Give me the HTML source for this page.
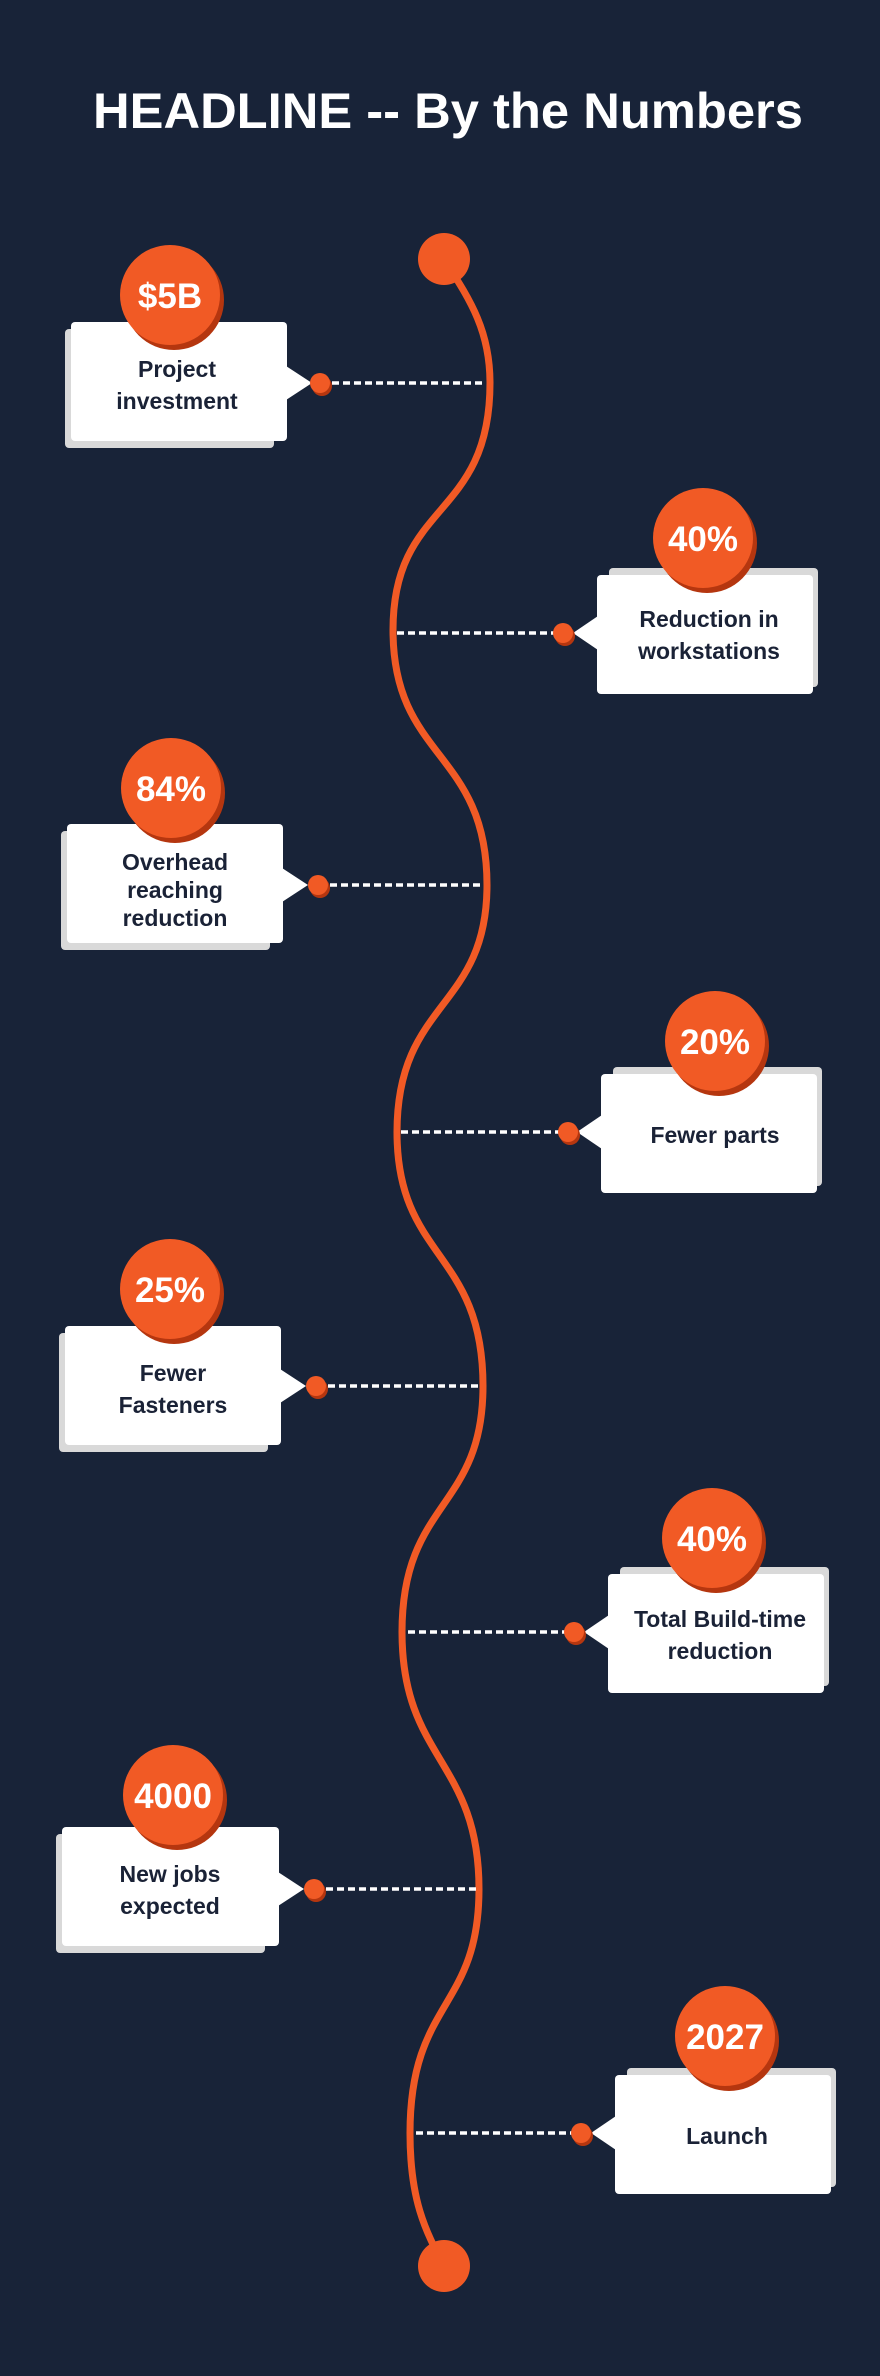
<!DOCTYPE html>
<html><head><meta charset="utf-8"><style>
html,body{margin:0;padding:0;background:#182338;}
svg{display:block}
.t{font-family:"Liberation Sans",sans-serif;font-weight:bold;}
</style></head><body>
<svg width="880" height="2376" viewBox="0 0 880 2376" xmlns="http://www.w3.org/2000/svg">
<rect width="880" height="2376" fill="#182338"/>
<text class="t" x="448" y="128" font-size="50" fill="#fff" text-anchor="middle" textLength="710" lengthAdjust="spacingAndGlyphs">HEADLINE -- By the Numbers</text>

<path d="M444,259 C470,300 490,330 490,383 C490,520 393,500 393,630 C393,760 487,750 487,885 C487,1010 397,1000 397,1132 C397,1260 483,1250 483,1386 C483,1510 402,1500 402,1632 C402,1760 479,1760 479,1889 C479,2010 410,2000 410,2133 C410,2200 425,2230 444,2266" fill="none" stroke="#f15a25" stroke-width="7"/>
<circle cx="444" cy="259" r="26" fill="#f15a25"/>
<circle cx="444" cy="2266" r="26" fill="#f15a25"/>

<g fill="none" stroke="#fff" stroke-width="3.5" stroke-dasharray="7 4">
<line x1="332" y1="383" x2="486" y2="383"/>
<line x1="397" y1="633" x2="555" y2="633"/>
<line x1="330" y1="885" x2="482" y2="885"/>
<line x1="401" y1="1132" x2="560" y2="1132"/>
<line x1="328" y1="1386" x2="481" y2="1386"/>
<line x1="408" y1="1632" x2="566" y2="1632"/>
<line x1="326" y1="1889" x2="479" y2="1889"/>
<line x1="416" y1="2133" x2="573" y2="2133"/>
</g>

<!-- left cards: x,y top, w=216,h=119 -->
<g>
<rect x="65" y="329" width="209" height="119" rx="4" fill="#d9d9d9"/>
<rect x="71" y="322" width="216" height="119" rx="4" fill="#fff"/>
<polygon points="286,366 312,383 286,400" fill="#fff"/>
<circle cx="322" cy="386" r="10" fill="#b5360f"/><circle cx="320" cy="383" r="10" fill="#f15a25"/>
<circle cx="174" cy="300" r="50" fill="#b5360f"/><circle cx="170" cy="295" r="50" fill="#f15a25"/>
<text class="t" x="170" y="308" font-size="35" fill="#fff" text-anchor="middle">$5B</text>
<text class="t" x="177" y="377" font-size="23" fill="#1a2236" text-anchor="middle">Project</text>
<text class="t" x="177" y="409" font-size="23" fill="#1a2236" text-anchor="middle">investment</text>
</g>
<g>
<rect x="61" y="831" width="209" height="119" rx="4" fill="#d9d9d9"/>
<rect x="67" y="824" width="216" height="119" rx="4" fill="#fff"/>
<polygon points="282,868 308,885 282,902" fill="#fff"/>
<circle cx="320" cy="888" r="10" fill="#b5360f"/><circle cx="318" cy="885" r="10" fill="#f15a25"/>
<circle cx="175" cy="793" r="50" fill="#b5360f"/><circle cx="171" cy="788" r="50" fill="#f15a25"/>
<text class="t" x="171" y="801" font-size="35" fill="#fff" text-anchor="middle">84%</text>
<text class="t" x="175" y="870" font-size="23" fill="#1a2236" text-anchor="middle">Overhead</text>
<text class="t" x="175" y="898" font-size="23" fill="#1a2236" text-anchor="middle">reaching</text>
<text class="t" x="175" y="926" font-size="23" fill="#1a2236" text-anchor="middle">reduction</text>
</g>
<g>
<rect x="59" y="1333" width="209" height="119" rx="4" fill="#d9d9d9"/>
<rect x="65" y="1326" width="216" height="119" rx="4" fill="#fff"/>
<polygon points="280,1369 306,1386 280,1403" fill="#fff"/>
<circle cx="318" cy="1389" r="10" fill="#b5360f"/><circle cx="316" cy="1386" r="10" fill="#f15a25"/>
<circle cx="174" cy="1294" r="50" fill="#b5360f"/><circle cx="170" cy="1289" r="50" fill="#f15a25"/>
<text class="t" x="170" y="1302" font-size="35" fill="#fff" text-anchor="middle">25%</text>
<text class="t" x="173" y="1381" font-size="23" fill="#1a2236" text-anchor="middle">Fewer</text>
<text class="t" x="173" y="1413" font-size="23" fill="#1a2236" text-anchor="middle">Fasteners</text>
</g>
<g>
<rect x="56" y="1834" width="209" height="119" rx="4" fill="#d9d9d9"/>
<rect x="62" y="1827" width="217" height="119" rx="4" fill="#fff"/>
<polygon points="278,1872 304,1889 278,1906" fill="#fff"/>
<circle cx="316" cy="1892" r="10" fill="#b5360f"/><circle cx="314" cy="1889" r="10" fill="#f15a25"/>
<circle cx="177" cy="1800" r="50" fill="#b5360f"/><circle cx="173" cy="1795" r="50" fill="#f15a25"/>
<text class="t" x="173" y="1808" font-size="35" fill="#fff" text-anchor="middle">4000</text>
<text class="t" x="170" y="1882" font-size="23" fill="#1a2236" text-anchor="middle">New jobs</text>
<text class="t" x="170" y="1914" font-size="23" fill="#1a2236" text-anchor="middle">expected</text>
</g>

<!-- right cards -->
<g>
<rect x="609" y="568" width="209" height="119" rx="4" fill="#d9d9d9"/>
<rect x="597" y="575" width="216" height="119" rx="4" fill="#fff"/>
<polygon points="598,616 573,633 598,650" fill="#fff"/>
<circle cx="565" cy="636" r="10" fill="#b5360f"/><circle cx="563" cy="633" r="10" fill="#f15a25"/>
<circle cx="707" cy="543" r="50" fill="#b5360f"/><circle cx="703" cy="538" r="50" fill="#f15a25"/>
<text class="t" x="703" y="551" font-size="35" fill="#fff" text-anchor="middle">40%</text>
<text class="t" x="709" y="627" font-size="23" fill="#1a2236" text-anchor="middle">Reduction in</text>
<text class="t" x="709" y="659" font-size="23" fill="#1a2236" text-anchor="middle">workstations</text>
</g>
<g>
<rect x="613" y="1067" width="209" height="119" rx="4" fill="#d9d9d9"/>
<rect x="601" y="1074" width="216" height="119" rx="4" fill="#fff"/>
<polygon points="602,1115 577,1132 602,1149" fill="#fff"/>
<circle cx="570" cy="1135" r="10" fill="#b5360f"/><circle cx="568" cy="1132" r="10" fill="#f15a25"/>
<circle cx="719" cy="1046" r="50" fill="#b5360f"/><circle cx="715" cy="1041" r="50" fill="#f15a25"/>
<text class="t" x="715" y="1054" font-size="35" fill="#fff" text-anchor="middle">20%</text>
<text class="t" x="715" y="1143" font-size="23" fill="#1a2236" text-anchor="middle">Fewer parts</text>
</g>
<g>
<rect x="620" y="1567" width="209" height="119" rx="4" fill="#d9d9d9"/>
<rect x="608" y="1574" width="216" height="119" rx="4" fill="#fff"/>
<polygon points="609,1615 584,1632 609,1649" fill="#fff"/>
<circle cx="576" cy="1635" r="10" fill="#b5360f"/><circle cx="574" cy="1632" r="10" fill="#f15a25"/>
<circle cx="716" cy="1543" r="50" fill="#b5360f"/><circle cx="712" cy="1538" r="50" fill="#f15a25"/>
<text class="t" x="712" y="1551" font-size="35" fill="#fff" text-anchor="middle">40%</text>
<text class="t" x="720" y="1627" font-size="23" fill="#1a2236" text-anchor="middle">Total Build-time</text>
<text class="t" x="720" y="1659" font-size="23" fill="#1a2236" text-anchor="middle">reduction</text>
</g>
<g>
<rect x="627" y="2068" width="209" height="119" rx="4" fill="#d9d9d9"/>
<rect x="615" y="2075" width="216" height="119" rx="4" fill="#fff"/>
<polygon points="616,2116 591,2133 616,2150" fill="#fff"/>
<circle cx="583" cy="2136" r="10" fill="#b5360f"/><circle cx="581" cy="2133" r="10" fill="#f15a25"/>
<circle cx="729" cy="2041" r="50" fill="#b5360f"/><circle cx="725" cy="2036" r="50" fill="#f15a25"/>
<text class="t" x="725" y="2049" font-size="35" fill="#fff" text-anchor="middle">2027</text>
<text class="t" x="727" y="2144" font-size="23" fill="#1a2236" text-anchor="middle">Launch</text>
</g>
</svg>
</body></html>
